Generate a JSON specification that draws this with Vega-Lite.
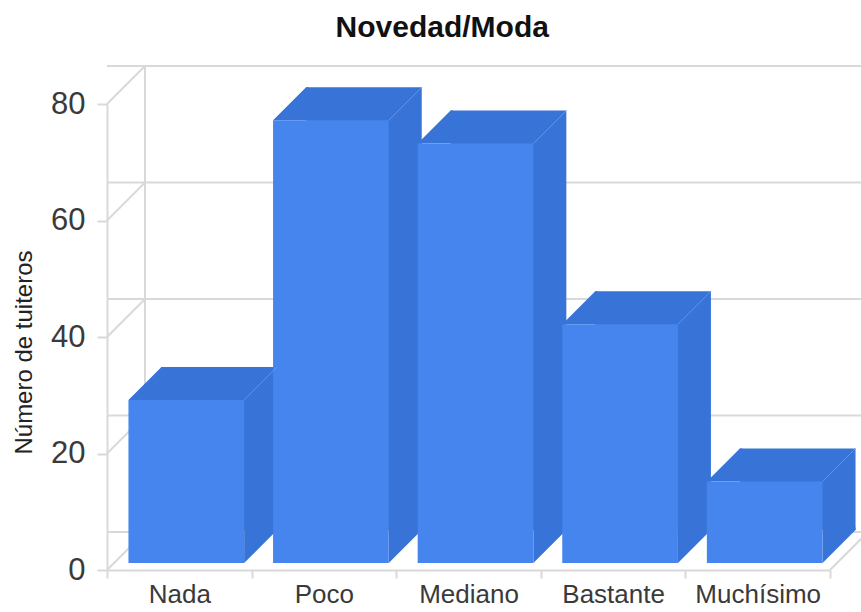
{
  "$schema": "https://vega.github.io/schema/vega-lite/v6.json",
  "width": 723,
  "height": 466,
  "autosize": {"type": "none"},
  "padding": {"left": 107, "top": 104, "right": 31, "bottom": 42},
  "background": "white",
  "config": {"view": {"stroke": null}, "font": "Liberation Sans"},
  "title": {"text": "Novedad/Moda", "fontSize": 30, "fontWeight": "bold", "font": "Liberation Sans", "color": "#111", "anchor": "middle", "frame": "bounds", "offset": 19},
  "datasets": {
    "bars": [
      {"categoria": "Nada", "tuiteros": 28},
      {"categoria": "Poco", "tuiteros": 76},
      {"categoria": "Mediano", "tuiteros": 72},
      {"categoria": "Bastante", "tuiteros": 41},
      {"categoria": "Muchísimo", "tuiteros": 14}
    ],
    "ticks": [{"v": 0}, {"v": 20}, {"v": 40}, {"v": 60}, {"v": 80}],
    "one": [{"k": 1}]
  },
  "layer": [
    {
      "data": {"name": "ticks"},
      "mark": {"type": "rule", "color": "#d9d9d9", "strokeWidth": 2, "xOffset": 38, "yOffset": -38},
      "encoding": {
        "y": {"field": "v", "type": "quantitative", "scale": {"domain": [0, 80], "nice": false},
          "axis": {"title": "Número de tuiteros", "values": [0, 20, 40, 60, 80], "grid": false, "domainColor": "#d9d9d9", "domainWidth": 2, "tickColor": "#d9d9d9", "tickWidth": 2, "tickSize": 10, "labelFontSize": 31, "labelColor": "#3a3a3a", "labelPadding": 12, "labelFont": "Liberation Sans", "titleFont": "Liberation Sans", "titleFontSize": 24, "titleFontWeight": "normal", "titleColor": "#222", "titlePadding": 14, "titleY": 248}}
      }
    },
    {
      "data": {"name": "ticks"},
      "mark": {"type": "point", "shape": "M-1,1L1,-1", "size": 1444, "filled": false, "stroke": "#d9d9d9", "strokeWidth": 2, "opacity": 1, "xOffset": -53.3, "yOffset": -19},
      "encoding": {
        "x": {"datum": "Nada", "type": "nominal"},
        "y": {"field": "v", "type": "quantitative"}
      }
    },
    {
      "data": {"name": "one"},
      "mark": {"type": "rule", "color": "#d9d9d9", "strokeWidth": 2, "xOffset": -34.3, "yOffset": -38, "y2Offset": -38},
      "encoding": {
        "x": {"datum": "Nada", "type": "nominal"},
        "y": {"datum": 0, "type": "quantitative"},
        "y2": {"datum": 80}
      }
    },
    {
      "data": {"name": "one"},
      "mark": {"type": "point", "shape": "M-1,1L1,-1", "size": 1444, "filled": false, "stroke": "#d9d9d9", "strokeWidth": 2, "opacity": 1, "xOffset": 91.3, "yOffset": -19},
      "encoding": {
        "x": {"datum": "Muchísimo", "type": "nominal"},
        "y": {"datum": 0, "type": "quantitative"}
      }
    },
    {
      "data": {"name": "bars"},
      "mark": {"type": "bar", "color": "#3874d8", "width": {"band": 0.8}, "xOffset": 40, "x2Offset": 40, "yOffset": -40, "y2Offset": -40},
      "encoding": {
        "x": {"field": "categoria", "type": "nominal", "sort": null,
          "scale": {"domain": ["Nada", "Poco", "Mediano", "Bastante", "Muchísimo"], "paddingInner": 0, "paddingOuter": 0},
          "axis": {"title": null, "labelAngle": 0, "tickBand": "extent", "domainColor": "#d9d9d9", "domainWidth": 2, "tickColor": "#d9d9d9", "tickWidth": 2, "tickSize": 8, "labelFontSize": 26, "labelColor": "#3a3a3a", "labelPadding": 16, "labelFont": "Liberation Sans", "labelAlign": "center"}},
        "y": {"field": "tuiteros", "type": "quantitative"}
      }
    },
    {
      "data": {"name": "bars"},
      "mark": {"type": "point", "shape": "M-1,1L1,-1L1.15,-1L1.15,1Z", "size": 1089, "filled": true, "color": "#3874d8", "strokeWidth": 0, "opacity": 1, "xOffset": -34.35, "yOffset": -23.5},
      "encoding": {
        "x": {"field": "categoria", "type": "nominal"},
        "y": {"field": "tuiteros", "type": "quantitative"}
      }
    },
    {
      "data": {"name": "bars"},
      "mark": {"type": "point", "shape": "M-1,-1.15L1,-1.15L1,-1L-1,1Z", "size": 1089, "filled": true, "color": "#3874d8", "strokeWidth": 0, "opacity": 1, "xOffset": 81.35, "yOffset": -23.5},
      "encoding": {
        "x": {"field": "categoria", "type": "nominal"},
        "y": {"datum": 0, "type": "quantitative"}
      }
    },
    {
      "data": {"name": "bars"},
      "mark": {"type": "bar", "color": "#4684ee", "width": {"band": 0.8}, "xOffset": 7, "x2Offset": 7, "yOffset": -7, "y2Offset": -7},
      "encoding": {
        "x": {"field": "categoria", "type": "nominal"},
        "y": {"field": "tuiteros", "type": "quantitative"}
      }
    },
    {
      "data": {"name": "bars"},
      "mark": {"type": "point", "shape": "M-1,1L1,-1", "size": 1089, "filled": false, "stroke": "#6a9cf0", "strokeWidth": 1, "opacity": 0.8, "xOffset": 81.35, "yOffset": -23.5},
      "encoding": {
        "x": {"field": "categoria", "type": "nominal"},
        "y": {"field": "tuiteros", "type": "quantitative"}
      }
    }
  ]
}
